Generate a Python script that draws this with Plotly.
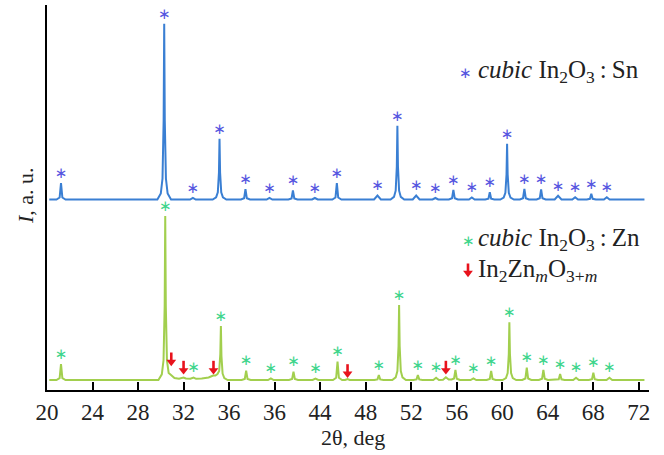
import plotly.graph_objects as go

# ---------------- data ----------------
# 2θ (deg) and intensity above each pattern's own baseline (a.u.)
blue_x = [20.2,
          20.83, 21.11, 21.23, 21.35, 21.63,
          29.70, 30.00, 30.15, 30.25, 30.30, 30.35, 30.45, 30.60, 30.90,
          32.57, 32.82, 33.07,
          34.56, 34.86, 35.01, 35.11, 35.16, 35.21, 35.31, 35.46, 35.76,
          37.04, 37.32, 37.44, 37.56, 37.84,
          39.30, 39.55, 39.80,
          41.21, 41.49, 41.61, 41.73, 42.01,
          43.29, 43.54, 43.79,
          45.07, 45.35, 45.47, 45.59, 45.87,
          48.74, 49.04, 49.34,
          50.19, 50.49, 50.64, 50.74, 50.79, 50.84, 50.94, 51.09, 51.39,
          52.14, 52.44, 52.74,
          53.88, 54.13, 54.38,
          55.31, 55.59, 55.71, 55.83, 56.11,
          57.08, 57.33, 57.58,
          58.51, 58.79, 58.91, 59.03, 59.31,
          59.83, 60.13, 60.28, 60.38, 60.43, 60.48, 60.58, 60.73, 61.03,
          61.55, 61.83, 61.95, 62.07, 62.35,
          63.02, 63.30, 63.42, 63.54, 63.82,
          64.61, 64.91, 65.21,
          66.16, 66.41, 66.66,
          67.43, 67.71, 67.83, 67.95, 68.23,
          68.94, 69.19, 69.44,
          72.5]
blue_y = [0,
          0, 2, 16.3, 2, 0,
          0, 6, 21, 79, 175.7, 79, 21, 6, 0,
          0, 1.7, 0,
          0, 2.1, 7.3, 27, 60.7, 27, 7.3, 2.1, 0,
          0, 1.2, 10.3, 1.2, 0,
          0, 1.7, 0,
          0, 1.1, 9, 1.1, 0,
          0, 1.5, 0,
          0, 2, 16.3, 2, 0,
          0, 4, 0,
          0, 2.6, 8.8, 33, 73.7, 33, 8.8, 2.6, 0,
          0, 4, 0,
          0, 1.5, 0,
          0, 1.2, 9.7, 1.2, 0,
          0, 2, 0,
          0, 0.9, 7.3, 0.9, 0,
          0, 1.9, 6.7, 25, 55.7, 25, 6.7, 1.9, 0,
          0, 1.3, 10.7, 1.3, 0,
          0, 1.2, 10, 1.2, 0,
          0, 3.7, 0,
          0, 2.3, 0,
          0, 0.7, 5.7, 0.7, 0,
          0, 2.3, 0,
          0]

green_x = [20.2,
           20.83, 21.11, 21.23, 21.35, 21.63,
           29.79, 30.09, 30.24, 30.34, 30.39, 30.44, 30.54, 30.69, 30.90, 31.20, 31.60,
           31.80, 32.00, 32.20,
           32.60, 32.88, 33.10,
           33.60, 34.20, 34.60, 34.80,
           34.98, 35.13, 35.23, 35.28, 35.33, 35.43, 35.58, 35.88,
           37.10, 37.38, 37.50, 37.62, 37.90,
           39.42, 39.67, 39.92,
           41.26, 41.54, 41.66, 41.78, 42.06,
           43.34, 43.59, 43.84,
           45.13, 45.41, 45.53, 45.65, 45.93,
           46.20, 46.41, 46.60,
           48.76, 49.04, 49.16, 49.28, 49.56,
           50.34, 50.64, 50.79, 50.89, 50.94, 50.99, 51.09, 51.24, 51.54,
           52.19, 52.47, 52.59, 52.71, 52.99,
           53.94, 54.19, 54.44,
           54.80, 55.05, 55.30,
           55.55, 55.77, 55.89, 56.01, 56.29,
           57.22, 57.47, 57.72,
           58.63, 58.91, 59.03, 59.15, 59.43,
           60.03, 60.33, 60.48, 60.58, 60.63, 60.68, 60.78, 60.93, 61.23,
           61.76, 62.04, 62.16, 62.28, 62.56,
           63.22, 63.50, 63.62, 63.74, 64.02,
           64.69, 64.97, 65.09, 65.21, 65.49,
           66.24, 66.49, 66.74,
           67.61, 67.89, 68.01, 68.13, 68.41,
           69.17, 69.42, 69.67,
           72.5]
green_y = [0,
           0, 1.9, 16, 1.9, 0,
           0, 5.7, 19.7, 74, 164, 74, 19.7, 7, 5, 2, 1.2,
           1.5, 2.5, 1.5,
           1.2, 2.5, 1.2,
           1.5, 2.5, 4.5, 4.5,
           6, 9, 26, 54, 24, 6.5, 1.9, 0,
           0, 1.1, 9.3, 1.1, 0,
           0, 1.7, 0,
           0, 1, 8.3, 1, 0,
           0, 1.3, 0,
           0, 2.2, 18.3, 2.2, 0,
           0, 1, 0,
           0, 0.6, 5, 0.6, 0,
           0, 2.6, 9, 34, 75, 34, 9, 2.6, 0,
           0, 0.6, 5, 0.6, 0,
           0, 2.3, 0,
           0.3, 2.7, 0.5,
           0.5, 1.5, 10, 1.2, 0,
           0, 1.7, 0,
           0, 1.1, 9, 1.1, 0,
           0, 2, 6.9, 26, 57.7, 26, 6.9, 2, 0,
           0, 1.5, 12.3, 1.5, 0,
           0, 1.2, 10, 1.2, 0,
           0, 0.7, 6, 0.7, 0,
           0, 2.3, 0,
           0, 0.9, 7.3, 0.9, 0,
           0, 2.3, 0,
           0]

# reflections marked with asterisks (cubic In2O3)
blue_peak_pos = [21.23, 30.30, 32.82, 35.16, 37.44, 39.55, 41.61, 43.54, 45.47, 49.04, 50.79, 52.44,
                 54.13, 55.71, 57.33, 58.91, 60.43, 61.95, 63.42, 64.91, 66.41, 67.83, 69.19]
blue_peak_int = [16.3, 175.7, 1.7, 60.7, 10.3, 1.7, 9, 1.5, 16.3, 4, 73.7, 4,
                 1.5, 9.7, 2, 7.3, 55.7, 10.7, 10, 3.7, 2.3, 5.7, 2.3]
green_peak_pos = [21.23, 30.39, 32.88, 35.28, 37.50, 39.67, 41.66, 43.59, 45.53, 49.16, 50.94, 52.59,
                  54.19, 55.89, 57.47, 59.03, 60.63, 62.16, 63.62, 65.09, 66.49, 68.01, 69.42]
green_peak_int = [16, 164, 2.5, 54, 9.3, 1.7, 8.3, 1.3, 18.3, 5, 75, 5,
                  2.3, 10, 1.7, 9, 57.7, 12.3, 10, 6, 2.3, 7.3, 2.3]

# In2ZnmO3+m reflections (red arrows): position and intensity level of arrow tip
arrow_pos = [30.92, 32.00, 34.63, 46.41, 55.05]
arrow_int = [15, 6.7, 6.7, 3.3, 6.7]

tick_vals = [20, 24, 28, 32, 36, 40, 44, 48, 52, 56, 60, 64, 68, 72]
tick_text = ["20", "24", "28", "32", "36", "36", "44", "48", "52", "56", "60", "64", "68", "72"]

# ---------------- styling ----------------
GREEN_BASE = 10.0
BLUE_BASE = 190.5
STAR_GAP = 9.0
HEAD = 3.0      # arrow head centre above the tip
SHAFT = 12.5    # arrow length

BLUE = "#3a7fd3"
GREEN = "#a2cf4e"
BLUE_STAR = "#5656e0"
GREEN_STAR = "#3fd58c"
RED = "#e8121c"
SERIF = "Liberation Serif"

X0, X1 = 20.0, 72.9
L, R, T, B = 47, 15, 5, 65
W, H = 664, 455
PW, PH = W - L - R, H - T - B


def px_x(p):       # pixel -> paper
    return (p - L) / PW


def px_y(p):
    return (H - B - p) / PH


def px_to_data_x(p):
    return X0 + (p - L) / PW * (X1 - X0)


def px_to_data_y(p):
    return (H - B - p)


fig = go.Figure()

fig.add_trace(go.Scatter(x=blue_x, y=[v + BLUE_BASE for v in blue_y], mode="lines",
                         line=dict(color=BLUE, width=2), hoverinfo="skip"))
fig.add_trace(go.Scatter(x=green_x, y=[v + GREEN_BASE for v in green_y], mode="lines",
                         line=dict(color=GREEN, width=2), hoverinfo="skip"))

fig.add_trace(go.Scatter(x=blue_peak_pos, y=[v + BLUE_BASE + STAR_GAP for v in blue_peak_int],
                         mode="text", text=["∗"] * len(blue_peak_pos), textposition="middle center",
                         textfont=dict(family="DejaVu Sans", size=15, color=BLUE_STAR), hoverinfo="skip"))
fig.add_trace(go.Scatter(x=green_peak_pos, y=[v + GREEN_BASE + STAR_GAP for v in green_peak_int],
                         mode="text", text=["∗"] * len(green_peak_pos), textposition="middle center",
                         textfont=dict(family="DejaVu Sans", size=15, color=GREEN_STAR), hoverinfo="skip"))

# red arrows: shaft + head (plot arrows and the legend arrow)
ax_list = list(arrow_pos) + [px_to_data_x(468)]
ay_list = [v + GREEN_BASE for v in arrow_int] + [px_to_data_y(276)]
shaft_x, shaft_y = [], []
for xp, yp in zip(ax_list, ay_list):
    shaft_x += [xp, xp, None]
    shaft_y += [yp + HEAD, yp + SHAFT, None]
fig.add_trace(go.Scatter(x=shaft_x, y=shaft_y, mode="lines", line=dict(color=RED, width=2.6),
                         hoverinfo="skip", cliponaxis=False))
fig.add_trace(go.Scatter(x=ax_list, y=[v + HEAD for v in ay_list], mode="markers",
                         marker=dict(symbol="triangle-down", size=8.5, color=RED, line=dict(width=0)),
                         hoverinfo="skip", cliponaxis=False))

annotations = [
    dict(x=px_x(466), y=px_y(73), xref="paper", yref="paper", text="∗", showarrow=False,
         font=dict(family="DejaVu Sans", size=15, color=BLUE_STAR), xanchor="center", yanchor="middle"),
    dict(x=px_x(476), y=px_y(72), xref="paper", yref="paper",
         text="<i>cubic</i> In<sub>2</sub>O<sub>3</sub>\u2009:\u2009Sn", showarrow=False,
         font=dict(family=SERIF, size=25, color="#222"), xanchor="left", yanchor="middle"),
    dict(x=px_x(468), y=px_y(241), xref="paper", yref="paper", text="∗", showarrow=False,
         font=dict(family="DejaVu Sans", size=15, color=GREEN_STAR), xanchor="center", yanchor="middle"),
    dict(x=px_x(476), y=px_y(239), xref="paper", yref="paper",
         text="<i>cubic</i> In<sub>2</sub>O<sub>3</sub>\u2009:\u2009Zn", showarrow=False,
         font=dict(family=SERIF, size=25, color="#222"), xanchor="left", yanchor="middle"),
    dict(x=px_x(476), y=px_y(270), xref="paper", yref="paper",
         text="In<sub>2</sub>Zn<sub><i>m</i></sub>O<sub>3+<i>m</i></sub>", showarrow=False,
         font=dict(family=SERIF, size=25, color="#222"), xanchor="left", yanchor="middle"),
    dict(x=px_x(25), y=px_y(195), xref="paper", yref="paper", text="<i>I</i>, a. u.",
         showarrow=False, textangle=-90, font=dict(family=SERIF, size=22, color="#222"),
         xanchor="center", yanchor="middle"),
    dict(x=px_x(353), y=px_y(437), xref="paper", yref="paper", text="2θ, deg",
         showarrow=False, font=dict(family=SERIF, size=22, color="#222"),
         xanchor="center", yanchor="middle"),
]

fig.update_layout(
    width=W, height=H,
    margin=dict(l=L, r=R, t=T, b=B),
    paper_bgcolor="white", plot_bgcolor="white",
    showlegend=False,
    annotations=annotations,
    xaxis=dict(range=[X0, X1], tickmode="array", tickvals=tick_vals, ticktext=tick_text,
               ticks="inside", ticklen=8, tickwidth=1.5, tickcolor="black",
               showline=True, linecolor="black", linewidth=2, showgrid=False, zeroline=False,
               tickfont=dict(family=SERIF, size=23, color="#222")),
    yaxis=dict(range=[0, PH], showline=True, linecolor="black", linewidth=2,
               showticklabels=False, ticks="", showgrid=False, zeroline=False),
)

fig.write_html("out.html", config={"displayModeBar": False},
               post_script="document.body.style.margin='0';document.body.style.overflow='hidden';")
